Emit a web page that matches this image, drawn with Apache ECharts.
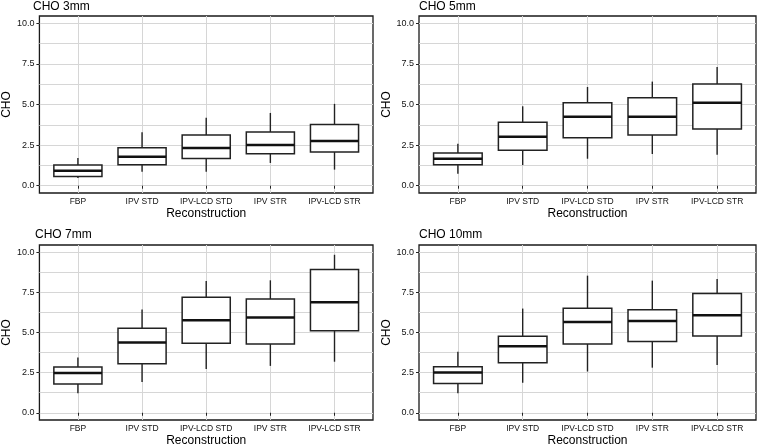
<!DOCTYPE html>
<html>
<head>
<meta charset="utf-8">
<script src="https://cdn.jsdelivr.net/npm/echarts@6/dist/echarts.min.js"></script>
<style>
html,body{margin:0;padding:0;background:#fff;}
#chart{width:759px;height:448px;}
</style>
</head>
<body>
<div id="chart"></div>
<script>
// Categories (x axis)
const categories = ['FBP', 'IPV STD', 'IPV-LCD STD', 'IPV STR', 'IPV-LCD STR'];
// Panel titles
const panelTitles = ['CHO 3mm', 'CHO 5mm', 'CHO 7mm', 'CHO 10mm'];
// Box statistics per category: [lower whisker, Q1, median, Q3, upper whisker]
const cho3mm = [
  [0.47, 0.57, 0.92, 1.27, 1.70],
  [0.86, 1.29, 1.78, 2.34, 3.29],
  [0.86, 1.68, 2.32, 3.12, 4.19],
  [1.40, 1.97, 2.51, 3.31, 4.48],
  [0.99, 2.07, 2.75, 3.77, 5.04]
];
const cho5mm = [
  [0.74, 1.29, 1.66, 2.01, 2.59],
  [1.27, 2.18, 3.02, 3.90, 4.89],
  [1.66, 2.96, 4.25, 5.11, 6.08],
  [1.95, 3.12, 4.25, 5.42, 6.41],
  [1.91, 3.49, 5.11, 6.26, 7.31]
];
const cho7mm = [
  [1.22, 1.79, 2.47, 2.85, 3.44],
  [1.92, 3.05, 4.37, 5.26, 6.43],
  [2.72, 4.33, 5.77, 7.20, 8.21],
  [2.92, 4.28, 5.93, 7.09, 8.25],
  [3.18, 5.11, 6.89, 8.93, 9.84]
];
const cho10mm = [
  [1.21, 1.83, 2.51, 2.87, 3.80],
  [1.87, 3.12, 4.15, 4.76, 6.49],
  [2.57, 4.29, 5.65, 6.51, 8.54],
  [2.81, 4.44, 5.71, 6.41, 8.23],
  [2.98, 4.78, 6.08, 7.43, 8.34]
];
const panelData = [cho3mm, cho5mm, cho7mm, cho10mm];
// Tick values
const yMajorTicks = [0, 2.5, 5, 7.5, 10];
const yMinorTicks = [1.25, 3.75, 6.25, 8.75];
const xTicks = [1, 2, 3, 4, 5];

const FONT = '"Liberation Sans", Arial, sans-serif';
const INK = '#222222';
const GRIDC = '#d6d6d6';
const BOX_W = 0.75;

const grids = [
  {left: 35, top: 16, width: 338, height: 177},
  {left: 419, top: 16, width: 337, height: 177},
  {left: 35, top: 245, width: 338, height: 177},
  {left: 419, top: 245, width: 337, height: 177}
];
const titlePos = [
  {left: 33, top: 1}, {left: 419, top: 1}, {left: 35, top: 229}, {left: 419, top: 229}
];

const option = {
  animation: false,
  backgroundColor: '#ffffff',
  title: panelTitles.map((t, i) => ({
    text: t, left: titlePos[i].left, top: titlePos[i].top, padding: 0,
    textStyle: {fontFamily: FONT, fontSize: 12, fontWeight: 'normal', color: '#000'}
  })),
  grid: grids.map(g => Object.assign({show: true, borderColor: '#1a1a1a', borderWidth: 1.3, backgroundColor: 'transparent'}, g)),
  xAxis: [],
  yAxis: [],
  series: []
};

for (let i = 0; i < 4; i++) {
  option.xAxis.push({
    gridIndex: i, type: 'value', min: 0.4, max: 5.6,
    name: 'Reconstruction', nameLocation: 'middle', nameGap: 15,
    nameTextStyle: {fontFamily: FONT, fontSize: 12, color: '#000'},
    axisLine: {show: false},
    axisTick: {show: true, length: 3, customValues: xTicks, lineStyle: {color: INK, width: 1}},
    axisLabel: {customValues: xTicks, margin: 4, fontFamily: FONT, fontSize: 8.5, color: '#111',
      formatter: v => categories[Math.round(v) - 1] || ''},
    splitLine: {show: true, lineStyle: {color: GRIDC, width: 1}}
  });
  // major y axis (labels, ticks, major grid)
  option.yAxis.push({
    gridIndex: i, type: 'value', min: -0.45, max: 10.45,
    name: 'CHO', nameLocation: 'middle', nameGap: 23, nameRotate: 90,
    nameTextStyle: {fontFamily: FONT, fontSize: 12, color: '#000'},
    axisLine: {show: false},
    axisTick: {show: true, length: 3, customValues: yMajorTicks, lineStyle: {color: INK, width: 1}},
    axisLabel: {customValues: yMajorTicks, margin: 5, fontFamily: FONT, fontSize: 9, color: '#111',
      formatter: v => v.toFixed(1)},
    splitLine: {show: true, lineStyle: {color: GRIDC, width: 1}}
  });
}
// minor y axes (grid lines only)
for (let i = 0; i < 4; i++) {
  option.yAxis.push({
    gridIndex: i, type: 'value', min: -0.45, max: 10.45, position: 'left',
    axisLine: {show: false},
    axisTick: {show: false, customValues: yMinorTicks},
    axisLabel: {show: false, customValues: yMinorTicks},
    splitLine: {show: true, lineStyle: {color: GRIDC, width: 1}}
  });
}

function renderBox(params, api) {
  const x = api.value(0);
  const lo = api.coord([x, api.value(1)]);
  const q1 = api.coord([x, api.value(2)]);
  const med = api.coord([x, api.value(3)]);
  const q3 = api.coord([x, api.value(4)]);
  const hi = api.coord([x, api.value(5)]);
  const w = api.size([BOX_W, 0])[0];
  return {
    type: 'group',
    children: [
      {type: 'line', shape: {x1: lo[0], y1: lo[1], x2: q1[0], y2: q1[1]}, style: {stroke: INK, lineWidth: 1.4}},
      {type: 'line', shape: {x1: q3[0], y1: q3[1], x2: hi[0], y2: hi[1]}, style: {stroke: INK, lineWidth: 1.4}},
      {type: 'rect', shape: {x: q3[0] - w / 2, y: q3[1], width: w, height: q1[1] - q3[1]},
        style: {fill: '#ffffff', stroke: INK, lineWidth: 1.5}},
      {type: 'line', shape: {x1: med[0] - w / 2, y1: med[1], x2: med[0] + w / 2, y2: med[1]},
        style: {stroke: '#111', lineWidth: 2.5}}
    ]
  };
}

panelData.forEach((rows, i) => {
  option.series.push({
    type: 'custom',
    xAxisIndex: i, yAxisIndex: i,
    renderItem: renderBox,
    encode: {x: 0, y: [1, 2, 3, 4, 5]},
    data: rows.map((r, k) => [k + 1].concat(r)),
    z: 5
  });
});

const chart = echarts.init(document.getElementById('chart'), null, {renderer: 'canvas'});
chart.setOption(option);
</script>
</body>
</html>
